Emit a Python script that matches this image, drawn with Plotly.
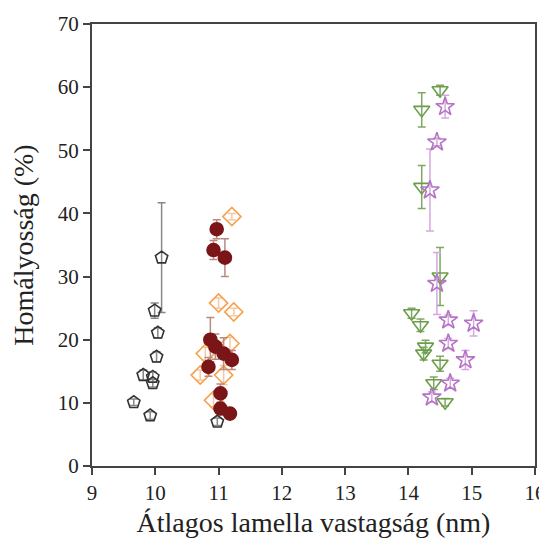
import plotly.graph_objects as go

# Black open pentagons
pent_x = [10.1, 9.99, 10.04, 10.02, 9.81, 9.96, 9.96, 9.66, 9.92, 10.98]
pent_y = [33.0, 24.6, 21.1, 17.3, 14.4, 14.1, 13.1, 10.1, 8.0, 7.0]
pent_e = [8.7, 1.2, 0.8, 0.8, 0.8, 0.8, 0.6, 0.5, 0.6, 0.6]

# Orange open diamonds
dia_x = [11.21, 11.0, 11.24, 10.79, 11.18, 10.71, 11.08, 10.92]
dia_y = [39.5, 25.8, 24.4, 17.8, 19.4, 14.4, 14.4, 10.4]
dia_e = [0.5, 0.8, 0.6, 1.0, 1.0, 0.8, 1.5, 1.0]

# Dark red filled circles
circ_x = [10.97, 10.92, 11.1, 10.87, 10.95, 11.08, 11.21, 10.84, 11.03, 11.03, 11.18]
circ_y = [37.5, 34.2, 33.0, 20.0, 18.9, 17.8, 16.8, 15.7, 11.5, 9.1, 8.3]
circ_e = [1.5, 1.5, 3.0, 3.5, 2.0, 2.5, 1.5, 1.5, 1.5, 1.0, 0.8]

# Green open down-triangles
tri_x = [14.5, 14.21, 14.21, 14.5, 14.05, 14.19, 14.27, 14.24, 14.5, 14.4, 14.58]
tri_y = [59.5, 56.4, 44.2, 30.0, 24.2, 22.3, 18.9, 17.8, 16.2, 13.1, 10.1]
tri_e = [0.8, 2.7, 3.4, 4.6, 0.8, 1.0, 1.0, 1.0, 1.2, 1.0, 0.6]

# Purple open stars
star_x = [14.58, 14.45, 14.34, 14.45, 14.63, 15.03, 14.63, 14.9, 14.66, 14.37]
star_y = [56.9, 51.3, 43.7, 28.9, 23.1, 22.6, 19.4, 16.8, 13.1, 10.9]
star_e = [1.8, 0.6, 6.5, 4.9, 0.8, 2.0, 0.8, 1.5, 0.8, 0.8]

x_ticks = [9, 10, 11, 12, 13, 14, 15, 16]
y_ticks = [0, 10, 20, 30, 40, 50, 60, 70]

SERIF = "Liberation Serif, Times New Roman, Times, serif"

fig = go.Figure()

def add(x, y, e, symbol, mcolor, ecolor, fill=None, size=13):
    fig.add_trace(go.Scatter(
        x=x, y=y, mode="markers",
        error_y=dict(type="data", array=e, visible=True, color=ecolor,
                     thickness=1.5, width=4),
        marker=dict(symbol=symbol, size=size,
                    color=fill if fill else mcolor,
                    line=dict(color=mcolor, width=1.6)),
        showlegend=False, cliponaxis=False))

add(dia_x, dia_y, dia_e, "diamond-open", "#F7A24F", "#F5C9A0", size=14)
add(circ_x, circ_y, circ_e, "circle", "#7A1518", "#B98A80", fill="#7A1518", size=13)
add(pent_x, pent_y, pent_e, "pentagon-open", "#333333", "#888888", size=13)
add(tri_x, tri_y, tri_e, "triangle-down-open", "#6C9E4A", "#7FA865", size=14)
add(star_x, star_y, star_e, "star-open", "#B673C6", "#D6A8E0", size=14)

axis_common = dict(showline=True, linecolor="#444444", linewidth=2, mirror=True,
                   ticks="outside", ticklen=7, tickwidth=2, tickcolor="#444444",
                   showgrid=False, zeroline=False, automargin=False,
                   ticklabeloverflow="allow",
                   tickfont=dict(family=SERIF, size=21, color="#222222"))

fig.update_xaxes(range=[9, 16], tickvals=x_ticks,
                 title=dict(text="Átlagos lamella vastagság (nm)",
                            font=dict(family=SERIF, size=28, color="#222222"),
                            standoff=22),
                 **axis_common)
fig.update_yaxes(range=[0, 70], tickvals=y_ticks,
                 title=dict(text="Homályosság (%)",
                            font=dict(family=SERIF, size=28, color="#222222"),
                            standoff=16),
                 **axis_common)

fig.update_layout(width=538, height=530, plot_bgcolor="white", paper_bgcolor="white",
                  margin=dict(l=84, r=11, t=16, b=72))

fig.write_html("out.html")
